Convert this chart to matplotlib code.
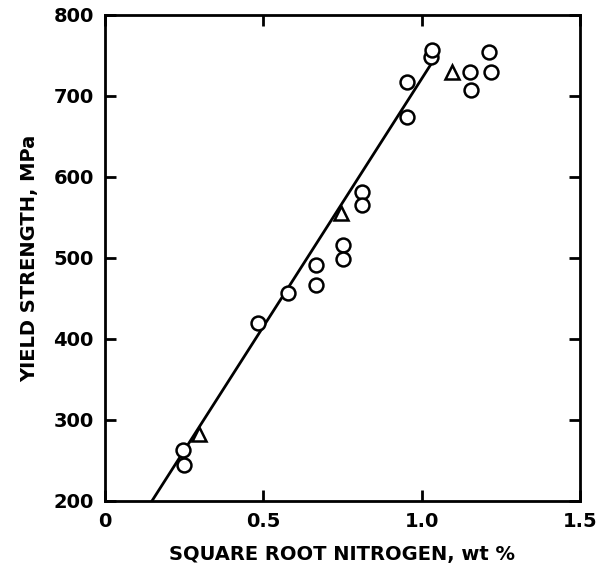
import matplotlib
matplotlib.use("Agg")
import matplotlib.pyplot as plt

# Circles: open-circle data points
circle_x = [0.247, 0.25, 0.485, 0.578, 0.668, 0.668, 0.751, 0.751, 0.813, 0.813,
            0.954, 0.954, 1.031, 1.032, 1.153, 1.155, 1.213, 1.218]
circle_y = [263, 244, 419, 457, 491, 466, 516, 499, 581, 565,
            717, 674, 748, 757, 730, 707, 754, 730]

# Triangles
tri_x = [0.297, 0.747, 1.095]
tri_y = [282, 555, 730]

# Fitted line endpoints
fit_x = [0.149, 1.031]
fit_y = [200, 740]

x_ticks = [0, 0.5, 1.0, 1.5]
x_ticklabels = ["0", "0.5", "1.0", "1.5"]
y_ticks = [200, 300, 400, 500, 600, 700, 800]

plt.rcParams['font.family'] = ['DejaVu Sans']

fig = plt.figure(figsize=(6.06, 5.75), dpi=100)
ax = fig.add_axes([0.173, 0.129, 0.784, 0.845])

ax.plot(fit_x, fit_y, color='black', lw=2.0, zorder=2)
ax.plot(circle_x, circle_y, 'o', ms=10, mfc='white', mec='black', mew=1.8, zorder=3)
ax.plot(tri_x, tri_y, '^', ms=10, mfc='white', mec='black', mew=1.8, zorder=3)

ax.set_xlim(0, 1.5)
ax.set_ylim(200, 800)
ax.set_xticks(x_ticks)
ax.set_xticklabels(x_ticklabels)
ax.set_yticks(y_ticks)
ax.tick_params(direction='in', length=8, width=2, top=True, right=True,
               labelsize=14, pad=8)
for lbl in ax.get_xticklabels() + ax.get_yticklabels():
    lbl.set_fontweight('bold')
for s in ax.spines.values():
    s.set_linewidth(2)

ax.set_xlabel("SQUARE ROOT NITROGEN, wt %", fontsize=14, fontweight='bold', labelpad=10)
ax.set_ylabel("YIELD STRENGTH, MPa", fontsize=14, fontweight='bold', labelpad=10)

fig.savefig("out.png", dpi=100)
